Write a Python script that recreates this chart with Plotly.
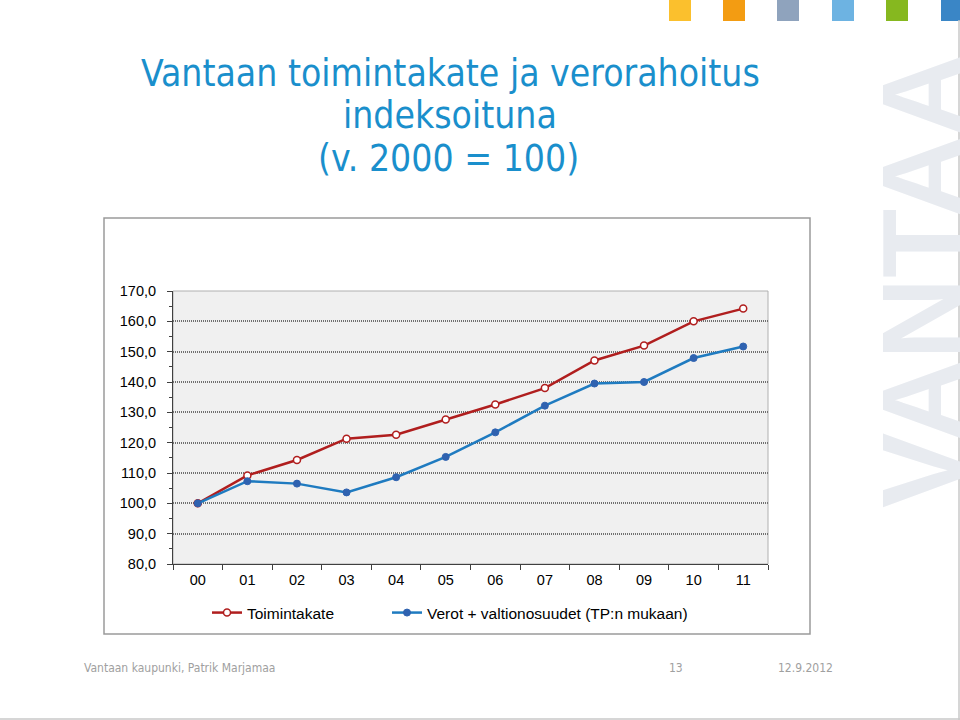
import plotly.graph_objects as go

years = ["00", "01", "02", "03", "04", "05", "06", "07", "08", "09", "10", "11"]
toimintakate = [100.0, 109.2, 114.3, 121.3, 122.6, 127.6, 132.6, 138.0, 147.1, 152.0, 160.0, 164.2]
verot = [100.0, 107.3, 106.5, 103.6, 108.6, 115.3, 123.4, 132.2, 139.5, 140.0, 147.9, 151.7]
series_names = ["Toimintakate", "Verot + valtionosuudet (TP:n mukaan)"]
title_lines = ["Vantaan toimintakate ja verorahoitus", "indeksoituna", "(v. 2000 = 100)"]
footer_left = "Vantaan kaupunki, Patrik Marjamaa"
footer_page = "13"
footer_date = "12.9.2012"
deco_colors = ["#fbc02d", "#f39c12", "#8fa3bd", "#6db3e2", "#86b81f", "#3a86c6"]

# plot area in pixels
L, R, T, B = 173, 768, 291, 564
W, H = R - L, B - T


def xp(x):
    return (x - L) / W


def yp(y):
    return (B - y) / H


fig = go.Figure()
fig.add_trace(go.Scatter(
    x=years, y=toimintakate, name=series_names[0], mode="lines+markers", legend="legend",
    line=dict(color="#b01e1e", width=2.5),
    marker=dict(symbol="circle", size=7, color="white", line=dict(color="#b01e1e", width=1.5)),
))
fig.add_trace(go.Scatter(
    x=years, y=verot, name=series_names[1], mode="lines+markers", legend="legend2",
    line=dict(color="#1f7bc0", width=2.5),
    marker=dict(symbol="circle", size=7, color="#2f62b0", line=dict(color="#2f62b0", width=1)),
))

shapes = []
# decorative squares at top
sq_x = [669, 723, 777, 832, 886, 941]
for c, x0 in zip(deco_colors, sq_x):
    shapes.append(dict(type="rect", xref="paper", yref="paper", x0=xp(x0), x1=xp(x0 + 22),
                       y0=yp(21), y1=yp(-2), fillcolor=c, line=dict(width=0), layer="below"))
# slide border right and bottom
shapes.append(dict(type="line", xref="paper", yref="paper", x0=xp(959), x1=xp(959), y0=yp(20), y1=yp(720),
                   line=dict(color="#c8c8c8", width=1.5)))
shapes.append(dict(type="line", xref="paper", yref="paper", x0=xp(0), x1=xp(960), y0=yp(719), y1=yp(719),
                   line=dict(color="#c8c8c8", width=1.5)))
# chart frame
shapes.append(dict(type="rect", xref="paper", yref="paper", x0=xp(104), x1=xp(810), y0=yp(634), y1=yp(218),
                   line=dict(color="#9a9a9a", width=1.5), fillcolor="rgba(0,0,0,0)", layer="below"))
# plot area border
shapes.append(dict(type="rect", xref="paper", yref="paper", x0=0, x1=1, y0=0, y1=1,
                   line=dict(color="#b0b0b0", width=1), layer="below"))

annotations = []
# watermark
annotations.append(dict(text="VANTAA", xref="paper", yref="paper", x=xp(922), y=yp(281), showarrow=False,
                        textangle=-90, xanchor="center", yanchor="middle",
                        font=dict(family="Liberation Sans", size=113, color="#e8ebf0", weight="bold")))
# title lines
title_y = [73, 115, 158]
title_x = [450, 450, 448]
for t, yy, xx in zip(title_lines, title_y, title_x):
    annotations.append(dict(text=t, xref="paper", yref="paper", x=xp(xx), y=yp(yy), showarrow=False,
                            xanchor="center", yanchor="middle",
                            font=dict(family="DejaVu Sans Condensed", size=37, color="#1a8fcc")))
# footer
annotations.append(dict(text=footer_left, xref="paper", yref="paper", x=xp(82), y=yp(668), showarrow=False,
                        xanchor="left", yanchor="middle",
                        font=dict(family="DejaVu Sans Condensed", size=12, color="#a0a0a0")))
annotations.append(dict(text=footer_page, xref="paper", yref="paper", x=xp(676), y=yp(668), showarrow=False,
                        xanchor="center", yanchor="middle",
                        font=dict(family="DejaVu Sans Condensed", size=12, color="#a0a0a0")))
annotations.append(dict(text=footer_date, xref="paper", yref="paper", x=xp(835), y=yp(668), showarrow=False,
                        xanchor="right", yanchor="middle",
                        font=dict(family="DejaVu Sans Condensed", size=12, color="#a0a0a0")))

legend_common = dict(orientation="h", yanchor="middle", xanchor="left",
                     font=dict(family="Liberation Sans", size=15.5, color="black"),
                     bgcolor="rgba(0,0,0,0)", itemwidth=30)

fig.update_layout(
    width=960, height=720,
    margin=dict(l=L, r=960 - R, t=T, b=720 - B, pad=0),
    paper_bgcolor="white", plot_bgcolor="#f0f0f0",
    separators=", ",
    font=dict(family="Liberation Sans", size=14, color="black"),
    showlegend=True,
    legend=dict(x=xp(207), y=yp(613), **legend_common),
    legend2=dict(x=xp(387), y=yp(613), **legend_common),
    shapes=shapes,
    annotations=annotations,
)
fig.update_xaxes(type="category", tickson="boundaries", ticks="outside", ticklen=5, tickcolor="#404040",
                 showline=True, linecolor="#404040", linewidth=1, showgrid=False,
                 ticklabelstandoff=3,
                 tickfont=dict(size=14.5), range=[-0.5, 11.5], fixedrange=True)
fig.update_yaxes(range=[80, 170], dtick=10, tick0=80, tickformat=".1f", ticks="outside", ticklen=5,
                 tickcolor="#404040", showline=True, linecolor="#404040", linewidth=1,
                 showgrid=True, gridcolor="#707070", gridwidth=1.5, griddash="1px,1px",
                 minor=dict(dtick=5, ticks="outside", ticklen=3, tickcolor="#404040", showgrid=False),
                 ticklabelstandoff=8, zeroline=False, tickfont=dict(size=14.5), fixedrange=True)

fig.write_html("out.html")
